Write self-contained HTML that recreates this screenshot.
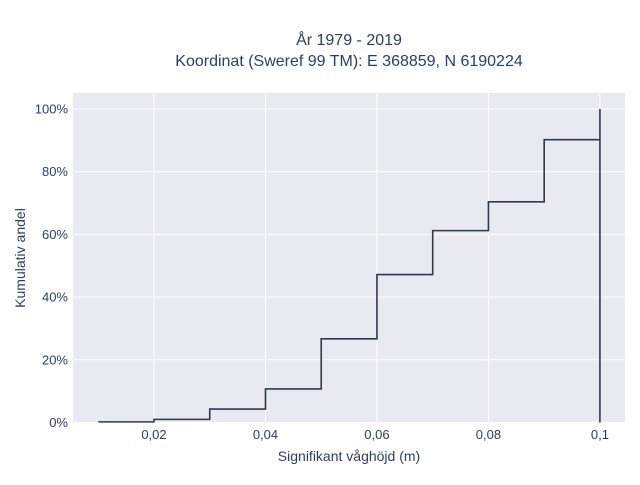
<!DOCTYPE html>
<html><head><meta charset="utf-8"><style>
body{margin:0;background:#fff;font-family:"Liberation Sans",sans-serif;}
</style></head><body>
<svg id="chart" width="640" height="480" xmlns="http://www.w3.org/2000/svg">
<rect width="640" height="480" fill="#fff"/>
<rect x="73" y="93" width="552" height="330" fill="#e9e9f1"/>
<g id="grid"></g>
<g id="ticks" font-size="13" fill="#2a3f5f"></g>
<path id="line" fill="none" stroke="#2e3a4b" stroke-width="1.6"/>
<text x="349" y="45" text-anchor="middle" font-size="16" fill="#2a3f5f">År 1979 - 2019</text>
<text x="349" y="66" text-anchor="middle" font-size="16" fill="#2a3f5f">Koordinat (Sweref 99 TM): E 368859, N 6190224</text>
<text x="349" y="461" text-anchor="middle" font-size="14" fill="#2a3f5f">Signifikant våghöjd (m)</text>
<text transform="translate(25,258) rotate(-90)" text-anchor="middle" font-size="14" fill="#2a3f5f">Kumulativ andel</text>
</svg>
<script>
const binEdges=[0.01,0.02,0.03,0.04,0.05,0.06,0.07,0.08,0.09,0.1];
const cumValues=[0.2,1.0,4.3,10.7,26.7,47.2,61.2,70.4,90.2,100];
const xTicks=[0.02,0.04,0.06,0.08,0.1];
const xTickLabels=["0,02","0,04","0,06","0,08","0,1"];
const yTicks=[0,20,40,60,80,100];
const yTickLabels=["0%","20%","40%","60%","80%","100%"];
const L=73,R=625,T=93,B=423;
const xMin=0.00547,xMax=0.1045,yMin=-0.16,yMax=105.1;
const X=v=>L+(v-xMin)/(xMax-xMin)*(R-L);
const Y=v=>B-(v-yMin)/(yMax-yMin)*(B-T);
const NS="http://www.w3.org/2000/svg";
const grid=document.getElementById('grid'),ticks=document.getElementById('ticks');
xTicks.forEach((t,i)=>{
  const l=document.createElementNS(NS,'line');
  l.setAttribute('x1',X(t));l.setAttribute('x2',X(t));l.setAttribute('y1',T);l.setAttribute('y2',B);
  l.setAttribute('stroke','#fff');l.setAttribute('stroke-width','1');
  
  
  grid.appendChild(l);
  const tx=document.createElementNS(NS,'text');
  tx.setAttribute('x',X(t));tx.setAttribute('y',B+16);tx.setAttribute('text-anchor','middle');
  tx.textContent=xTickLabels[i];
  
  
  ticks.appendChild(tx);
});
yTicks.forEach((t,i)=>{
  const l=document.createElementNS(NS,'line');
  l.setAttribute('x1',L);l.setAttribute('x2',R);l.setAttribute('y1',Y(t));l.setAttribute('y2',Y(t));
  l.setAttribute('stroke','#fff');l.setAttribute('stroke-width','1');
  
  
  grid.appendChild(l);
  const tx=document.createElementNS(NS,'text');
  tx.setAttribute('x',L-5);tx.setAttribute('y',Y(t)+4.5);tx.setAttribute('text-anchor','end');
  tx.textContent=yTickLabels[i];
  
  
  ticks.appendChild(tx);
});
let d='M'+X(binEdges[0])+','+Y(cumValues[0]);
for(let i=1;i<binEdges.length;i++){
  d+=' H'+X(binEdges[i])+' V'+Y(cumValues[i]);
}
d+=' V'+Y(0);
document.getElementById('line').setAttribute('d',d);
</script>
</body></html>
